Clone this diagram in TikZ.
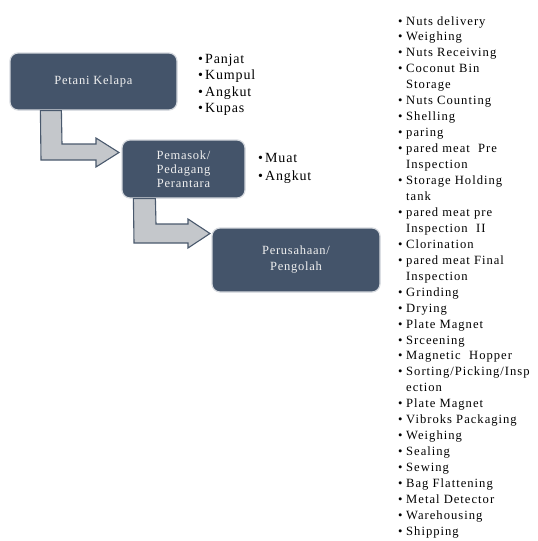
\documentclass[tikz,border=0pt]{standalone}
\usepackage{fontspec}
\usetikzlibrary{calc}
\setmainfont{Liberation Serif}
\newfontfamily\lsfont[LetterSpace=6]{Liberation Serif}
\newfontfamily\rsfont[LetterSpace=8]{Liberation Serif}
\definecolor{boxfill}{HTML}{44546A}
\definecolor{boxedge}{HTML}{D5D9DE}
\definecolor{arrfill}{HTML}{C4C7CB}
\definecolor{arredge}{HTML}{4A596D}
\definecolor{boxtext}{HTML}{F0F0F0}
\newcommand\itb{\makebox[8pt][l]{•}}
\newcommand\itc{\hspace*{8pt}}
\newcommand\itbl{\makebox[7pt][l]{•}}
\begin{document}
\begin{tikzpicture}[x=1pt,y=-1pt,
  box/.style={draw=boxedge, line width=1.2pt, fill=boxfill, rounded corners=8pt,
    text=boxtext, align=center, inner sep=0pt,
    font=\lsfont\fontsize{12.5}{14}\selectfont},
  bent/.style={draw=arredge, line width=1.1pt, fill=arrfill, line join=miter},
  rlist/.style={anchor=base west, inner sep=0pt, font=\rsfont\fontsize{12.6}{14}\selectfont},
  llist/.style={anchor=base west, inner sep=0pt, font=\lsfont\fontsize{14}{16}\selectfont}]
\useasboundingbox (0,0) rectangle (538,541);

% boxes
\node[box, minimum width=167pt, minimum height=57pt] (b1) at (93.5,81.5) {Petani\ Kelapa};
\node[box, minimum width=123pt, minimum height=58pt] (b2) at (183.5,169) {Pemasok/\\Pedagang\\Perantara};
\node[box, minimum width=168pt, minimum height=64pt] (b3) at (296,260) {Perusahaan/\\[2pt]Pengolah};

% bent arrows
\draw[bent] ($(b1.south west)+(31,0)$) -- (41,160) -- (96,160) -- (96,167) -- (119,152.5)
  -- (96,138) -- (96,144) -- (62,144) -- ($(b1.south west)+(52,0)$) -- cycle;
\draw[bent] ($(b2.south west)+(12,0)$) -- (134,243) -- (188,243) -- (188,248) -- (210,233.5)
  -- (188,219) -- (188,224) -- (156,224) -- ($(b2.south west)+(34,0)$) -- cycle;

% list for b1
\foreach \t [count=\i] in {Panjat,Kumpul,Angkut,Kupas}
  \node[llist] (p\i) at (198, 63.3+16.5*\i-16.5) {\itbl\t};
% list for b2
\foreach \t [count=\i] in {Muat,Angkut}
  \node[llist] (m\i) at (258, 162+18*\i-18) {\itbl\t};

% process list
\foreach \t [count=\i] in {
  {\itb Nuts delivery},{\itb Weighing},{\itb Nuts Receiving},{\itb Coconut Bin},{\itc Storage},
  {\itb Nuts Counting},{\itb Shelling},{\itb paring},{\itb pared meat\ \ Pre},{\itc Inspection},
  {\itb Storage Holding},{\itc tank},{\itb pared meat\ pre},{\itc Inspection\ \ II},{\itb Clorination},
  {\itb pared meat\ Final},{\itc Inspection},{\itb Grinding},{\itb Drying},{\itb Plate Magnet},
  {\itb Srceening},{\itb Magnetic\ \ Hopper},{\itb Sorting/Picking/Insp},{\itc ection},{\itb Plate Magnet},
  {\itb Vibroks Packaging},{\itb Weighing},{\itb Sealing},{\itb Sewing},{\itb Bag Flattening},
  {\itb Metal Detector},{\itb Warehousing},{\itb Shipping}}
  \node[rlist] (r\i) at (398, 25+15.95*\i-15.95) {\t};
\end{tikzpicture}
\end{document}
